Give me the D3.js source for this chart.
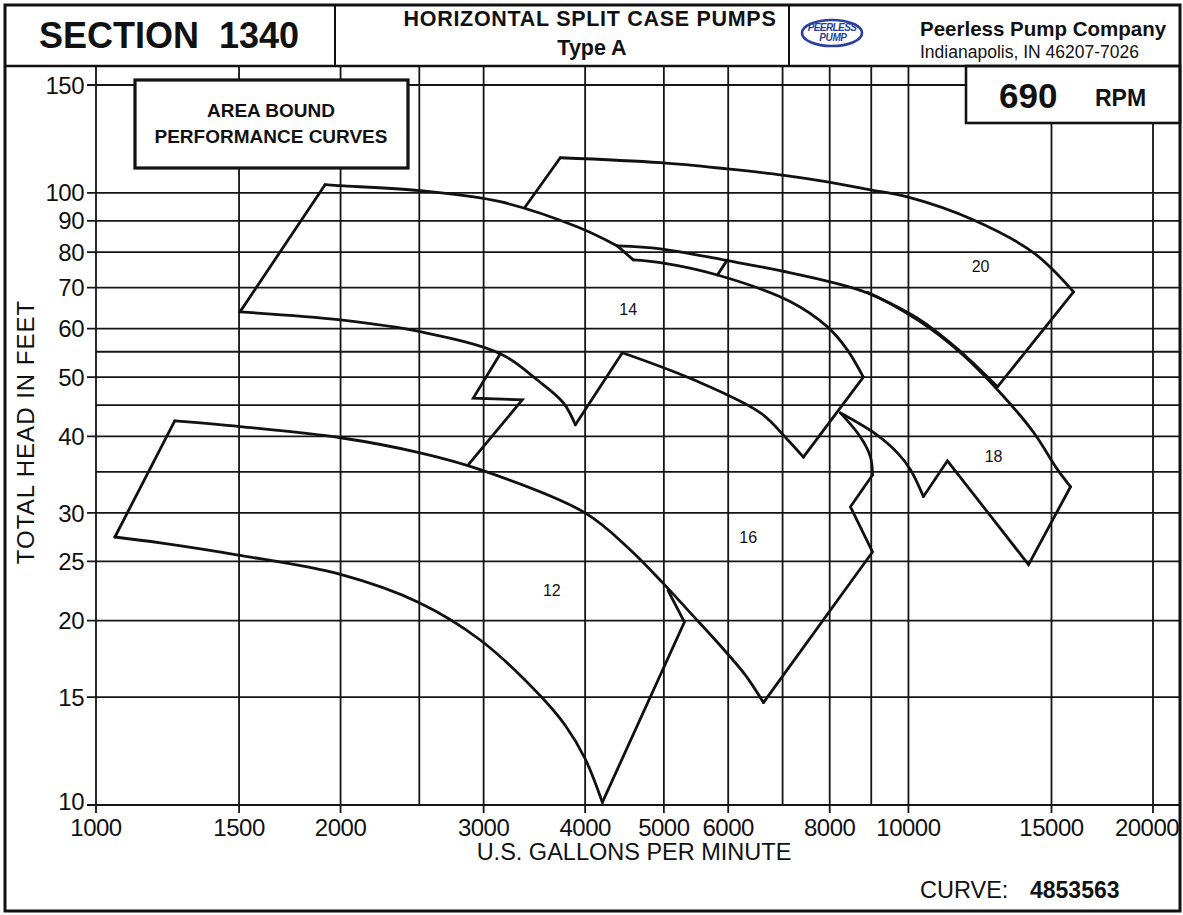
<!DOCTYPE html>
<html>
<head>
<meta charset="utf-8">
<script src="https://cdn.jsdelivr.net/npm/d3@7"></script>
<style>
  body { margin: 0; background: #fff; }
  svg text { font-family: "Liberation Sans", Arial, Helvetica, sans-serif; fill: #111; }
</style>
</head>
<body>
<div id="chart"></div>
<script>
// grid and tick values
const xGrid = [1000, 1500, 2000, 2500, 3000, 4000, 5000, 6000, 7000, 8000, 9000, 10000, 15000, 20000];
const xTicks = [1000, 1500, 2000, 3000, 4000, 5000, 6000, 8000, 10000, 15000, 20000];
const yGrid = [10, 15, 20, 25, 30, 35, 40, 45, 50, 55, 60, 70, 80, 90, 100, 150];
const yTicks = [10, 15, 20, 25, 30, 40, 50, 60, 70, 80, 90, 100, 150];

// impeller sizes and where their numbers sit [gpm, ft]
const sizes = ["12", "14", "16", "18", "20"];
const labelPos = [[3640, 22.4], [4520, 64.4], [6350, 27.4], [12730, 37.1], [12270, 75.7]];

// area boundaries, [gpm, ft]; curves are smooth, edges are straight
const curves12 = [
  [[1250, 42.4], [1504, 41.5], [2000, 39.8], [2506, 37.6], [2971, 35.3], [4000, 30.0], [4547, 26.1], [4978, 23.1], [5390, 20.6], [5870, 18.2], [6300, 16.3], [6630, 14.7]],
  [[1055, 27.4], [1200, 26.8], [1496, 25.6], [2000, 23.8], [2500, 21.4], [2971, 18.6], [3520, 15.1], [3780, 13.5], [4000, 11.9], [4200, 10.1]]
];
const edges12 = [
  [[5060, 22.4], [5300, 19.9], [4200, 10.1]],
  [[1055, 27.4], [1250, 42.4]]
];

const curves14 = [
  [[1914, 103.1], [2000, 102.7], [2506, 100.8], [3145, 96.7], [3910, 88.0], [4382, 81.9]],
  [[4585, 77.7], [4950, 76.9], [5820, 73.4], [7160, 66.4], [7950, 60.4], [8410, 55.4], [8800, 50.0]],
  [[7425, 37.0], [7100, 39.5], [6573, 43.7], [5440, 49.5], [4445, 54.8]],
  [[3891, 41.8], [3760, 45.4], [3490, 49.5], [3145, 54.6], [2506, 59.3], [2000, 62.0], [1504, 63.9]]
];
const edges14 = [
  [[1504, 63.9], [1914, 103.1]],
  [[4382, 81.9], [4585, 77.7]],
  [[8800, 50.0], [7425, 37.0]],
  [[4445, 54.8], [3891, 41.8]]
];

const curves16 = [
  [[8247, 43.7], [8729, 39.9], [8980, 37.0], [9032, 34.6]]
];
const edges16 = [
  [[2870, 35.9], [3347, 45.9], [2913, 46.2], [3145, 54.6]],
  [[9032, 34.6], [8484, 30.7], [9032, 25.9], [6630, 14.7]]
];

const curves18 = [
  [[4382, 81.9], [4950, 81.0], [5918, 77.7], [7157, 74.0], [8904, 68.6], [10259, 62.0], [11590, 54.8], [12980, 47.1], [14260, 40.6], [15260, 35.3], [15832, 33.1]],
  [[10435, 31.9], [10058, 35.3], [9694, 37.6], [9057, 40.6], [8247, 43.7]]
];
const edges18 = [
  [[5819, 73.4], [5986, 77.7]],
  [[15832, 33.1], [14055, 24.7], [11169, 36.5], [10435, 31.9]]
];

const curves20 = [
  [[3728, 114.1], [4950, 112.0], [5986, 109.4], [6996, 106.9], [7947, 104.2], [8980, 101.1], [9970, 98.5], [12030, 90.3], [14260, 79.8], [15968, 68.9]],
  [[8904, 68.8], [10259, 62.4], [11490, 55.6], [12870, 48.2]]
];
const edges20 = [
  [[3728, 114.1], [3376, 94.9]],
  [[15968, 68.9], [12870, 48.2]]
];

const allCurves = [].concat(curves12, curves14, curves16, curves18, curves20);
const allEdges = [].concat(edges12, edges14, edges16, edges18, edges20);

const W = 1183, H = 915;
const plotTop = 66, plotBottom = 805, plotLeft = 96, plotRight = 1180;

const svg = d3.select("#chart")
  .append("svg")
  .attr("width", W)
  .attr("height", H);

svg.append("rect").attr("width", W).attr("height", H).attr("fill", "#fff");

const x = d3.scaleLog().domain([1000, 20000]).range([96, 1153]);
const y = d3.scaleLog().domain([10, 150]).range([805, 85]);

// grid
const grid = svg.append("g").attr("stroke", "#151515").attr("stroke-width", 1.8);

grid.selectAll("line.v")
  .data(xGrid)
  .join("line")
  .attr("class", "v")
  .attr("x1", d => x(d)).attr("x2", d => x(d))
  .attr("y1", plotTop)
  .attr("y2", d => xTicks.includes(d) ? plotBottom + 8 : plotBottom);

grid.selectAll("line.h")
  .data(yGrid)
  .join("line")
  .attr("class", "h")
  .attr("x1", d => yTicks.includes(d) ? plotLeft - 9 : plotLeft)
  .attr("x2", plotRight)
  .attr("y1", d => y(d)).attr("y2", d => y(d));

// tick labels
svg.append("g").selectAll("text")
  .data(yTicks)
  .join("text")
  .attr("x", 84)
  .attr("y", d => d == 10 ? y(d) - 4 : y(d))
  .attr("dy", "0.36em")
  .attr("text-anchor", "end")
  .attr("font-size", 24)
  .attr("letter-spacing", -0.5)
  .text(d => d);

svg.append("g").selectAll("text")
  .data(xTicks)
  .join("text")
  .attr("x", d => d == 20000 ? x(d) - 6 : x(d))
  .attr("y", 836)
  .attr("text-anchor", "middle")
  .attr("font-size", 24)
  .attr("letter-spacing", -0.5)
  .text(d => d);

svg.append("text")
  .attr("transform", "translate(34,432) rotate(-90)")
  .attr("text-anchor", "middle")
  .attr("font-size", 24)
  .attr("letter-spacing", 1)
  .text("TOTAL HEAD IN FEET");

svg.append("text")
  .attr("x", 634).attr("y", 860)
  .attr("text-anchor", "middle")
  .attr("font-size", 23.5)
  .text("U.S. GALLONS PER MINUTE");

// boundaries
const smooth = d3.line().x(d => x(d[0])).y(d => y(d[1])).curve(d3.curveCatmullRom.alpha(0.5));
const straight = d3.line().x(d => x(d[0])).y(d => y(d[1]));

const marks = svg.append("g")
  .attr("fill", "none")
  .attr("stroke", "#111")
  .attr("stroke-width", 2.8)
  .attr("stroke-linejoin", "miter")
  .attr("stroke-linecap", "round");

marks.selectAll("path.c").data(allCurves).join("path").attr("class", "c").attr("d", smooth);
marks.selectAll("path.e").data(allEdges).join("path").attr("class", "e").attr("d", straight);

svg.append("g").selectAll("text")
  .data(sizes)
  .join("text")
  .attr("x", (d, i) => x(labelPos[i][0]))
  .attr("y", (d, i) => y(labelPos[i][1]))
  .attr("dy", "0.35em")
  .attr("text-anchor", "middle")
  .attr("font-size", 16)
  .text(d => d);

// area bound box
svg.append("rect")
  .attr("x", 135).attr("y", 80).attr("width", 273).attr("height", 88)
  .attr("fill", "#fff").attr("stroke", "#111").attr("stroke-width", 3.2);
svg.append("text").attr("x", 271).attr("y", 117).attr("text-anchor", "middle")
  .attr("font-size", 19).attr("font-weight", "bold").text("AREA BOUND");
svg.append("text").attr("x", 271).attr("y", 143).attr("text-anchor", "middle")
  .attr("font-size", 19).attr("font-weight", "bold").text("PERFORMANCE CURVES");

// rpm box
svg.append("rect")
  .attr("x", 966).attr("y", plotTop).attr("width", plotRight - 966).attr("height", 57)
  .attr("fill", "#fff").attr("stroke", "#111").attr("stroke-width", 2.6);
svg.append("text").attr("x", 999).attr("y", 108)
  .attr("font-size", 35).attr("font-weight", "bold").text("690");
svg.append("text").attr("x", 1095).attr("y", 106)
  .attr("font-size", 23).attr("font-weight", "bold").text("RPM");

// header
const header = svg.append("g").attr("stroke", "#111").attr("fill", "none");
header.append("rect").attr("x", 5).attr("y", 5).attr("width", 1175).attr("height", 906).attr("stroke-width", 3);
header.append("line").attr("x1", 5).attr("x2", 1180).attr("y1", plotTop).attr("y2", plotTop).attr("stroke-width", 2.6);
header.append("line").attr("x1", 335).attr("x2", 335).attr("y1", 5).attr("y2", plotTop).attr("stroke-width", 2);
header.append("line").attr("x1", 789).attr("x2", 789).attr("y1", 5).attr("y2", plotTop).attr("stroke-width", 2);

svg.append("text").attr("x", 169).attr("y", 48).attr("text-anchor", "middle")
  .attr("font-size", 36).attr("font-weight", "bold").style("white-space", "pre").text("SECTION  1340");
svg.append("text").attr("x", 590).attr("y", 26).attr("text-anchor", "middle")
  .attr("font-size", 21.5).attr("font-weight", "bold").attr("letter-spacing", 0.7).text("HORIZONTAL SPLIT CASE PUMPS");
svg.append("text").attr("x", 592).attr("y", 55).attr("text-anchor", "middle")
  .attr("font-size", 21.5).attr("font-weight", "bold").text("Type A");

// logo
const logo = svg.append("g");
logo.append("ellipse").attr("cx", 832).attr("cy", 33).attr("rx", 30).attr("ry", 13)
  .attr("fill", "none").attr("stroke", "#2c3f9e").attr("stroke-width", 2.6);
logo.append("text").attr("x", 832).attr("y", 31).attr("text-anchor", "middle")
  .attr("font-size", 10).attr("font-weight", "bold").attr("font-style", "italic")
  .attr("letter-spacing", -0.6).style("fill", "#2c3f9e").text("PEERLESS");
logo.append("text").attr("x", 833).attr("y", 41).attr("text-anchor", "middle")
  .attr("font-size", 10).attr("font-weight", "bold").attr("font-style", "italic")
  .attr("letter-spacing", -0.4).style("fill", "#2c3f9e").text("PUMP");

svg.append("text").attr("x", 920).attr("y", 36)
  .attr("font-size", 20.5).attr("font-weight", "bold").text("Peerless Pump Company");
svg.append("text").attr("x", 920).attr("y", 58)
  .attr("font-size", 17.5).text("Indianapolis, IN 46207-7026");

// curve number
svg.append("text").attr("x", 920).attr("y", 898)
  .attr("font-size", 23.5).text("CURVE:");
svg.append("text").attr("x", 1030).attr("y", 898)
  .attr("font-size", 23).attr("font-weight", "bold").text("4853563");
</script>
</body>
</html>
